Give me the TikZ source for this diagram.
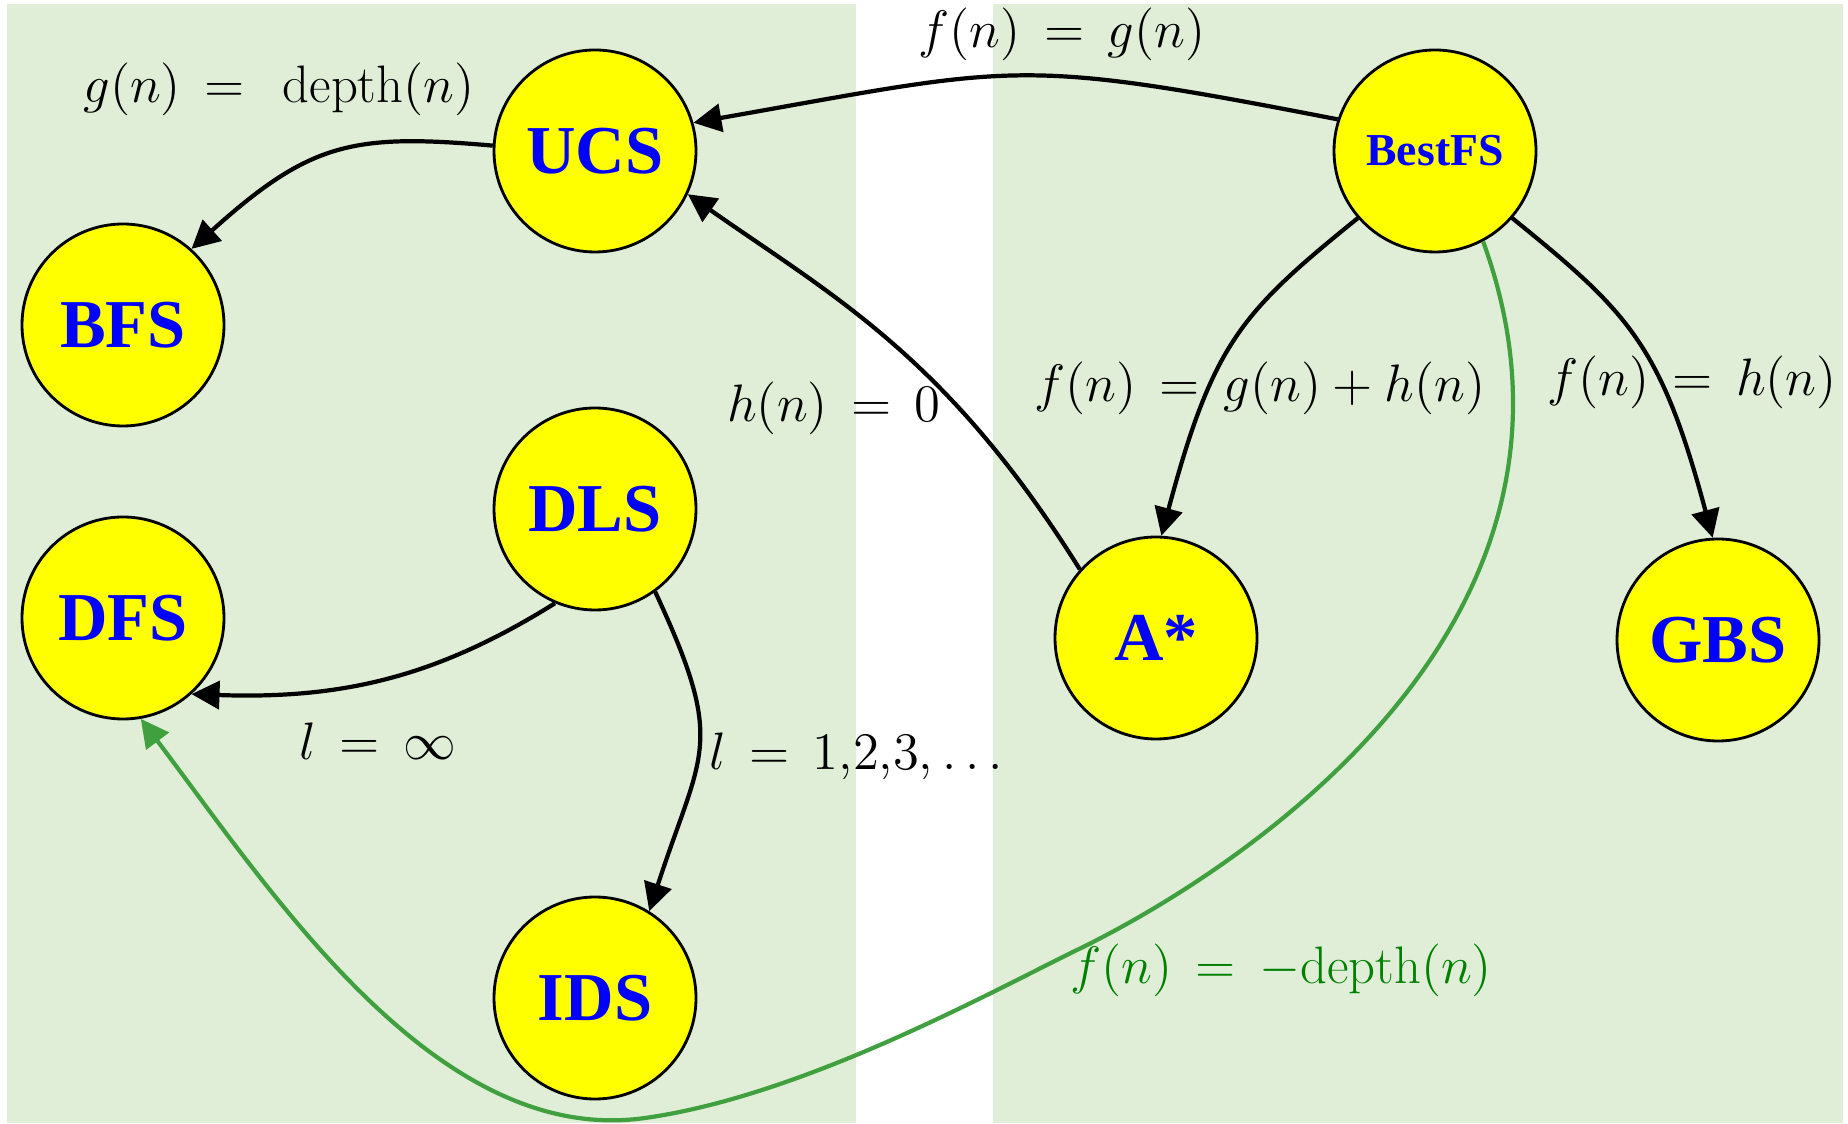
\documentclass[tikz,border=0pt]{standalone}
\usepackage{fix-cm}
\usepackage{fontspec}
\usepackage{amsmath}
\usetikzlibrary{arrows.meta}
\newfontfamily\algofont{Liberation Serif}
\definecolor{panelgreen}{RGB}{224,238,216}
\definecolor{pathgreen}{RGB}{64,160,64}
\definecolor{notegreen}{RGB}{0,128,0}
\definecolor{nodeyellow}{RGB}{255,255,0}
\definecolor{nodeblue}{RGB}{0,0,255}
\tikzset{
  algo/.style    = {circle,draw,line width=0.8pt,fill=nodeyellow,minimum size=2.02cm,inner sep=0pt,
                    text=nodeblue,font=\algofont\bfseries\fontsize{19.5}{22}\selectfont},
  relarr/.style  = {-{Triangle[length=2.8mm,width=2.8mm]},line width=1.2pt},
  relnote/.style = {font=\fontsize{15}{18}\selectfont,text height=11.25pt,text depth=3.75pt,inner sep=0pt}
}

\begin{document}
\begin{tikzpicture}
  \useasboundingbox (0,0) rectangle (18.48,11.23);
  \fill[panelgreen] (0.07,0) rectangle (8.56,11.19);
  \fill[panelgreen] (9.93,0) rectangle (18.43,11.19);
  \node[algo] (ucs)   at (5.95,9.72)  {UCS};
  \node[algo] (bfs)   at (1.23,7.98)  {BFS};
  \node[algo] (dls)   at (5.95,6.14)  {DLS};
  \node[algo] (dfs)   at (1.23,5.05)  {DFS};
  \node[algo] (ids)   at (5.95,1.25)  {IDS};
  \node[algo,font=\algofont\bfseries\fontsize{13}{15}\selectfont] (bestfs) at (14.35,9.72) {BestFS};
  \node[algo] (astar) at (11.56,4.85) {A*};
  \node[algo] (gbs)   at (17.18,4.83) {GBS};
  \coordinate (gright)  at (10.79,1.74);
  \coordinate (gbottom) at (6.45,0.05);
  \draw[relarr] (bestfs.162) .. controls +(169:3.3) and +(10:3.3) .. (ucs.16);
  \draw[relarr] (ucs.177) .. controls +(175:1.4) and +(42:1.6) .. (bfs.48);
  \draw[relarr] (astar.138) .. controls +(122:2.5) and +(-35:1.8) .. (ucs.-25);
  \draw[relarr] (bestfs.221) .. controls +(219:1.5) and +(75:2.0) .. (astar.87);
  \draw[relarr] (bestfs.-41) .. controls +(-39:1.5) and +(105:2.0) .. (gbs.93);
  \draw[relarr] (dls.247) .. controls +(212:1.4) and +(-2:1.5) .. (dfs.-48);
  \draw[relarr] (dls.-54) .. controls +(-65:1.7) and +(72:1.7) .. (ids.58);
  \draw[relarr,pathgreen] (bestfs.-62) .. controls +(-70:4.2) and +(26:1.5) .. (gright)
    .. controls +(206:1.0) and +(8:1.6) .. (gbottom)
    .. controls +(188:2.1) and +(-53:2.2) .. (dfs.-80);
  \node[relnote] (fg)     at (10.62,10.89) {$f(n) \,=\, g(n)$};
  \node[relnote] (gdepth) at (2.79,10.34)  {$g(n) \,=\,\; \mathrm{depth}(n)$};
  \node[relnote] (hzero)  at (8.34,7.15)   {$h(n) \,=\, 0$};
  \node[relnote] (fgh)    at (12.60,7.35)  {$f(n) \,=\, g(n) + h(n)$};
  \node[relnote] (fh)     at (16.92,7.41)  {$f(n) \,=\, h(n)$};
  \node[relnote] (linf)   at (3.78,3.77)   {$l \,=\, \infty$};
  \node[relnote] (lsteps) at (8.56,3.67)   {$l \,=\, 1{,}2{,}3{,}\ldots$};
  \node[relnote,text=notegreen] (fdepth) at (12.81,1.53) {$f(n) \,=\, -\mathrm{depth}(n)$};
\end{tikzpicture}
\end{document}
